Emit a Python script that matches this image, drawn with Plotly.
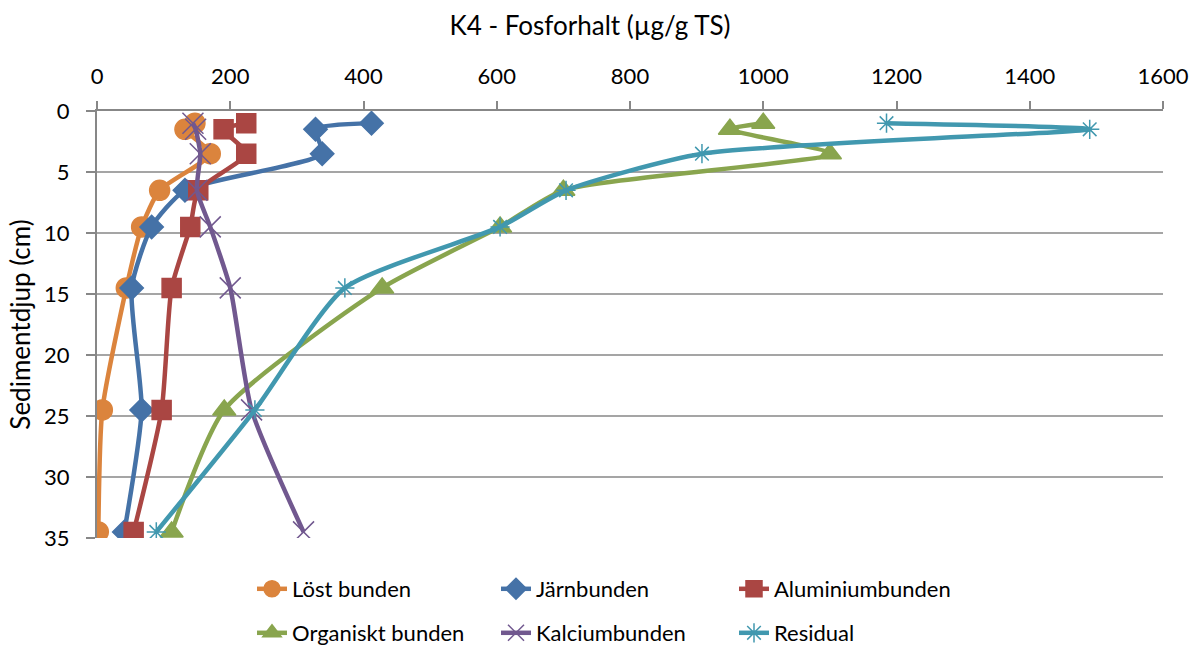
import plotly.graph_objects as go

# Sediment depth (cm) for each sample level
depth = [1, 1.5, 3.5, 6.5, 9.5, 14.5, 24.5, 34.5]

# Phosphorus fractions (µg/g TS)
lost_bunden = [147, 132, 170, 94, 67, 44, 8, 2]
jarnbunden = [412, 328, 338, 132, 82, 52, 67, 41]
aluminiumbunden = [224, 190, 224, 152, 140, 112, 97, 55]
organiskt_bunden = [1000, 950, 1100, 700, 605, 428, 191, 112]
kalciumbunden = [144, 148, 155, 150, 170, 200, 232, 310]
residual = [1185, 1490, 908, 704, 605, 372, 237, 89]

# name, values, colour, marker symbol, marker size, legend id
series = [
    ("Löst bunden", lost_bunden, "#DB843D", "circle", 20, "legend"),
    ("Järnbunden", jarnbunden, "#4572A7", "diamond", 18, "legend2"),
    ("Aluminiumbunden", aluminiumbunden, "#AA4643", "square", 19, "legend3"),
    ("Organiskt bunden", organiskt_bunden, "#89A54E", "triangle-up", 20, "legend4"),
    ("Kalciumbunden", kalciumbunden, "#71588F", "x-thin-open", 21, "legend5"),
    ("Residual", residual, "#4198AF", "asterisk-open", 16, "legend6"),
]

FONT = "Lato"
W, H = 1192, 646
L, R, T, B = 97, 29, 111, 108
PW, PH = W - L - R, H - T - B

fig = go.Figure()
for name, vals, color, symbol, size, leg in series:
    fig.add_trace(go.Scatter(
        x=vals, y=depth, name=name, mode="lines+markers",
        line=dict(color=color, width=4.5, shape="spline", smoothing=0.6),
        marker=dict(symbol=symbol, size=size, color=color,
                    line=dict(color=color, width=1.5)),
        legend=leg, showlegend=True,
    ))

# One legend box per entry so each sits in its own column / row
legend_cols = [252, 496, 734]
legend_rows = [589, 633]
legend_boxes = {}
for i, key in enumerate(["legend", "legend2", "legend3", "legend4", "legend5", "legend6"]):
    px_x = legend_cols[i % 3]
    px_y = legend_rows[i // 3]
    legend_boxes[key] = dict(
        orientation="h", font=dict(family=FONT, size=22, color="#000000"),
        bgcolor="rgba(0,0,0,0)", xanchor="left", yanchor="middle",
        x=(px_x - L) / PW, y=-(px_y - (T + PH)) / PH,
    )

fig.update_layout(
    width=W, height=H, showlegend=True,
    margin=dict(l=L, r=R, t=T, b=B, autoexpand=False),
    paper_bgcolor="white", plot_bgcolor="white",
    font=dict(family=FONT, size=22, color="#000000"),
    title=dict(text="K4 - Fosforhalt (µg/g TS)", x=(590 - L) / PW, xanchor="center",
               xref="paper", y=1 - 26 / H, yanchor="middle",
               font=dict(family=FONT, size=26, color="#000000")),
    xaxis=dict(side="top", range=[0, 1600], tick0=0, dtick=200,
               showgrid=False, zeroline=False,
               showline=True, linecolor="#878787", linewidth=2,
               ticks="outside", ticklen=8, tickwidth=2, tickcolor="#878787",
               ticklabelstandoff=8,
               tickfont=dict(family=FONT, size=22)),
    yaxis=dict(range=[35, 0], tick0=0, dtick=5,
               showgrid=True, gridcolor="#A5A5A5", gridwidth=2,
               zeroline=False, showline=True, linecolor="#878787", linewidth=2,
               ticks="outside", ticklen=9, tickwidth=2, tickcolor="#878787",
               ticklabelstandoff=12,
               tickfont=dict(family=FONT, size=22),
               title=dict(text="Sedimentdjup (cm)", standoff=6,
                          font=dict(family=FONT, size=26))),
    **legend_boxes,
)

fig.write_html("out.html")
